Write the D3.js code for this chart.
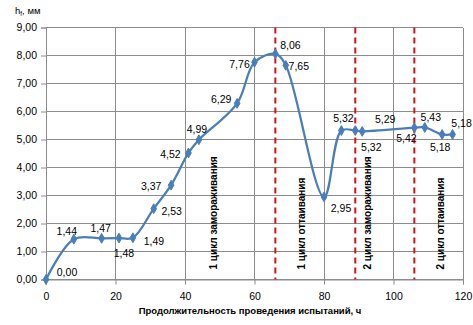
<!DOCTYPE html>
<html><head><meta charset="utf-8">
<script src="https://cdn.jsdelivr.net/npm/d3@7"></script>
<style>body{margin:0;background:#fff}svg{display:block}</style>
</head><body>
<svg id="c" width="473" height="325"></svg>
<script>
const hours  = [0, 8, 16, 21, 25, 31, 36, 41, 44, 55, 60, 66, 69, 80, 85, 89, 91, 106, 109, 114, 117];
const values = [0.00, 1.44, 1.47, 1.48, 1.49, 2.53, 3.37, 4.52, 4.99, 6.29, 7.76, 8.06, 7.65, 2.95, 5.32, 5.32, 5.29, 5.42, 5.43, 5.18, 5.18];
const xTicks = [0, 20, 40, 60, 80, 100, 120];
const yTicks = [0, 1, 2, 3, 4, 5, 6, 7, 8, 9];
const phaseBoundaries = [66, 89, 106];
const phaseNames = ["1 цикл замораживания", "1 цикл оттаивания", "2 цикл замораживания", "2 цикл оттаивания"];
const phaseNameHours = [48, 73.5, 92.5, 113.5];
const xTitle = "Продолжительность проведения испытаний, ч";

// label offsets (text centre relative to point), style only
const labelOffsets = [[21,-8],[-7,-8],[-1,-10],[5,15],[21,3],[18,2],[-20,1],[-18,1],[-2,-11],[-16,-4],[-15,2],[15,-9],[13,1],[17,11],[2,-13],[16,16],[23,-12],[-8,10],[6,-10],[-2,13],[9,-11]];

const svg = d3.select("#c");
const fmt = v => v.toFixed(2).replace(".", ",");
const x = d3.scaleLinear().domain([0,120]).range([46,463]);
const y = d3.scaleLinear().domain([0,9]).range([279.5,27.5]);
const font = "'Liberation Sans', Arial, sans-serif";

// gridlines
svg.append("g").selectAll("line.h").data(yTicks).join("line")
  .attr("x1", x(0)).attr("x2", x(120)).attr("y1", d=>y(d)).attr("y2", d=>y(d))
  .attr("stroke", "#8c8c8c").attr("stroke-width", 1).attr("shape-rendering","crispEdges");
svg.append("g").selectAll("line.v").data(xTicks).join("line")
  .attr("x1", d=>x(d)).attr("x2", d=>x(d)).attr("y1", y(0)).attr("y2", y(9))
  .attr("stroke", "#8c8c8c").attr("stroke-width", 1).attr("shape-rendering","crispEdges");

// axes
const yAxis = svg.append("g").attr("transform", `translate(${x(0)},0)`)
  .call(d3.axisLeft(y).tickValues(yTicks).tickFormat(fmt).tickSize(5).tickPadding(4));
yAxis.select(".domain").attr("stroke","#8c8c8c");
yAxis.selectAll(".tick line").attr("stroke","#8c8c8c");
yAxis.selectAll("text").attr("font-family", font).attr("font-size", 10.5).attr("fill","#000");

const xAxis = svg.append("g").attr("transform", `translate(0,${y(0)})`)
  .call(d3.axisBottom(x).tickValues(xTicks).tickFormat(d3.format("d")).tickSize(5).tickPadding(8));
xAxis.select(".domain").attr("stroke","#8c8c8c");
xAxis.selectAll(".tick line").attr("stroke","#8c8c8c");
xAxis.selectAll("text").attr("font-family", font).attr("font-size", 10.5).attr("fill","#000");

// phase boundaries
svg.append("g").selectAll("line").data(phaseBoundaries).join("line")
  .attr("x1", d=>x(d)).attr("x2", d=>x(d)).attr("y1", y(9)).attr("y2", y(0))
  .attr("stroke", "#d0121b").attr("stroke-width", 2).attr("stroke-dasharray", "6,4");

// phase names
svg.append("g").selectAll("text").data(phaseNames).join("text")
  .attr("transform", (d,i)=>`translate(${x(phaseNameHours[i])+4},${y(0)-10}) rotate(-90)`)
  .attr("font-family", font).attr("font-size", 10).attr("font-weight","bold")
  .attr("fill","#000").text(d=>d);

// line
const pts = hours.map((h,i)=>[h, values[i]]);
const line = d3.line().x(d=>x(d[0])).y(d=>y(d[1])).curve(d3.curveCatmullRom.alpha(0.5));
svg.append("path").datum(pts).attr("d", line).attr("fill","none")
  .attr("stroke","#4a7ebb").attr("stroke-width",2.25);

// markers
svg.append("g").selectAll("path").data(pts).join("path")
  .attr("d", d3.symbol(d3.symbolDiamond, 28))
  .attr("transform", d=>`translate(${x(d[0])},${y(d[1])})`)
  .attr("fill","#4a7ebb").attr("stroke","#4a7ebb");

// data labels
svg.append("g").selectAll("text").data(pts).join("text")
  .attr("x", (d,i)=>x(d[0])+labelOffsets[i][0])
  .attr("y", (d,i)=>y(d[1])+labelOffsets[i][1])
  .attr("text-anchor","middle").attr("dominant-baseline","central")
  .attr("font-family", font).attr("font-size", 10.5).attr("fill","#000")
  .text(d=>fmt(d[1]));

// titles
svg.append("text").attr("x", 250).attr("y", 314).attr("text-anchor","middle")
  .attr("font-family", font).attr("font-size", 9.5).attr("font-weight","bold").text(xTitle);
const yt = svg.append("text").attr("x", 15).attr("y", 14)
  .attr("font-family", font).attr("font-size", 9.5);
yt.append("tspan").text("h");
yt.append("tspan").attr("font-size", 6.5).attr("dy", 2).text("f");
yt.append("tspan").attr("dy", -2).text(", мм");
</script>
</body></html>
